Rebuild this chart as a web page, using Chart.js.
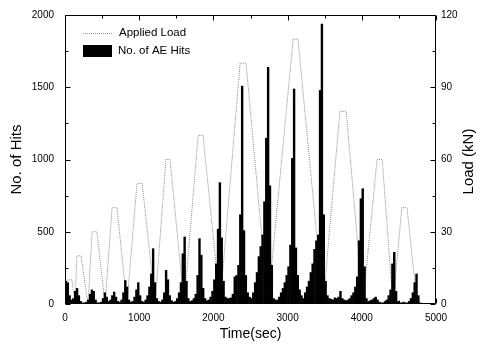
<!DOCTYPE html>
<html>
<head>
<meta charset="utf-8">
<title>AE Hits and Applied Load</title>
<script src="https://cdn.jsdelivr.net/npm/chart.js@4.4.0/dist/chart.umd.min.js"></script>
<style>
  body { margin: 0; background: #fff; }
  #wrap { width: 482px; height: 349px; }
</style>
</head>
<body>
<div id="wrap"><canvas id="chart" width="482" height="349"></canvas></div>
<script>
// AE hits, counted in 25 s bins from t = 0
const binWidth = 25;
const hitCounts = [
  160, 150, 60, 30, 40, 90, 110, 60, 20, 10,
  10, 15, 30, 70, 100, 90, 30, 10, 10, 15,
  40, 80, 50, 20, 30, 60, 85, 50, 20, 15,
  30, 80, 165, 120, 30, 15, 20, 50, 100, 150,
  60, 20, 15, 30, 60, 120, 210, 385, 150, 40,
  20, 15, 30, 80, 235, 170, 60, 25, 15, 20,
  40, 80, 150, 350, 466, 160, 40, 20, 25, 40,
  70, 200, 454, 340, 110, 40, 25, 30, 50, 90,
  170, 280, 520, 842, 460, 160, 50, 40, 40, 45,
  70, 190, 200, 270, 620, 1510, 510, 200, 80, 50,
  40, 80, 150, 220, 330, 400, 480, 710, 1150, 1640,
  820, 270, 40, 30, 30, 50, 80, 110, 150, 200,
  260, 410, 1010, 1490, 390, 200, 100, 60, 40, 80,
  120, 160, 220, 280, 380, 440, 480, 1480, 1940, 620,
  160, 60, 40, 35, 30, 45, 40, 50, 90, 40,
  30, 25, 30, 40, 60, 80, 120, 190, 440, 730,
  800, 260, 40, 20, 25, 30, 40, 50, 30, 15,
  10, 10, 20, 30, 60, 100, 280, 360, 90, 20,
  10, 10, 15, 10, 10, 20, 40, 80, 150, 210,
  60, 10, 0, 0, 0, 0, 0, 0, 0, 0
];

// corners of the applied load history
const loadTimes = [0, 95, 135, 160, 215, 310, 365, 430, 540, 635, 700, 835,
  970, 1040, 1215, 1360, 1415, 1605, 1795, 1860, 2090, 2360, 2440, 2735,
  3075, 3140, 3480, 3705, 3790, 4015, 4205, 4275, 4420, 4540, 4610, 4745];
const loadKN = [10, 10, 0, 20, 20, 0, 30, 30, 0, 40, 40, 0,
  50, 50, 0, 60, 60, 0, 70, 70, 0, 100, 100, 0,
  110, 110, 0, 80, 80, 0, 60, 60, 0, 40, 40, 0];

const fontFamily = '"Liberation Sans", Arial, sans-serif';
const loadColor = '#8c8c8c';
const plain = v => String(v);

const hitPoints = hitCounts.map((h, i) => ({ x: i * binWidth + binWidth / 2, y: h }));
const loadPoints = loadTimes.map((t, i) => ({ x: t, y: loadKN[i] }));

// frame, inward tick marks, legend and right axis title
const decorations = {
  id: 'decorations',
  afterDraw(chart) {
    const { ctx, chartArea: a } = chart;
    const sx = chart.scales.x, sy = chart.scales.y, sr = chart.scales.y1;
    const L = Math.round(a.left) + 0.5, R = Math.round(a.right) - 0.5;
    const T = Math.round(a.top) + 0.5, B = Math.round(a.bottom) - 0.5;
    ctx.save();
    ctx.strokeStyle = '#000';
    ctx.lineWidth = 1;
    ctx.beginPath();
    ctx.rect(L, T, R - L, B - T);

    const marks = (scale, cb) => {
      const vals = scale.ticks.map(t => t.value);
      vals.forEach((v, i) => {
        cb(Math.round(scale.getPixelForValue(v)) + 0.5, 5);
        if (i < vals.length - 1) {
          cb(Math.round(scale.getPixelForValue((v + vals[i + 1]) / 2)) + 0.5, 3);
        }
      });
    };
    marks(sx, (p, len) => {
      ctx.moveTo(p, B); ctx.lineTo(p, B - len);
      ctx.moveTo(p, T); ctx.lineTo(p, T + len);
    });
    marks(sy, (p, len) => { ctx.moveTo(L, p); ctx.lineTo(L + len, p); });
    marks(sr, (p, len) => { ctx.moveTo(R, p); ctx.lineTo(R - len, p); });
    ctx.stroke();

    // legend
    const ds = chart.data.datasets;
    ctx.font = '11.5px ' + fontFamily;
    ctx.fillStyle = '#000';
    ctx.textBaseline = 'middle';
    ctx.textAlign = 'left';
    ctx.strokeStyle = loadColor;
    ctx.setLineDash([1, 1]);
    ctx.beginPath();
    ctx.moveTo(a.left + 18, a.top + 18.5);
    ctx.lineTo(a.left + 48, a.top + 18.5);
    ctx.stroke();
    ctx.setLineDash([]);
    ctx.fillText(ds[1].label, a.left + 54, a.top + 18);
    ctx.fillRect(a.left + 18, a.top + 30, 29, 12);
    ctx.fillText(ds[0].label, a.left + 53, a.top + 36);

    // right axis title, read bottom to top
    ctx.font = '15px ' + fontFamily;
    ctx.textAlign = 'center';
    ctx.translate(469, (a.top + a.bottom) / 2 + 2);
    ctx.rotate(-Math.PI / 2);
    ctx.fillText('Load (kN)', 0, 0);
    ctx.restore();
  }
};

new Chart(document.getElementById('chart'), {
  type: 'bar',
  data: {
    datasets: [{
      label: 'No. of AE Hits',
      data: hitPoints,
      backgroundColor: '#000',
      borderWidth: 0,
      barPercentage: 1.3,
      categoryPercentage: 1,
      grouped: false,
      yAxisID: 'y',
      order: 1
    }, {
      type: 'line',
      label: 'Applied Load',
      data: loadPoints,
      borderColor: loadColor,
      borderWidth: 1,
      borderDash: [1, 1],
      pointRadius: 0,
      tension: 0,
      fill: false,
      yAxisID: 'y1',
      order: 2
    }]
  },
  options: {
    responsive: false,
    animation: false,
    layout: { padding: { top: 15, left: 0, right: 0, bottom: 0 } },
    plugins: { legend: { display: false }, tooltip: { enabled: false } },
    scales: {
      x: {
        type: 'linear',
        min: 0, max: 5000,
        offset: false,
        grid: { display: false, drawTicks: false },
        border: { display: false },
        ticks: { stepSize: 1000, padding: 8, color: '#000', callback: plain, font: { size: 10, family: fontFamily }, maxRotation: 0 },
        title: { display: true, text: 'Time(sec)', color: '#000', font: { size: 14, family: fontFamily }, padding: { top: 0, bottom: 6 } },
        afterFit(s) { s.height = 45; }
      },
      y: {
        position: 'left',
        min: 0, max: 2000,
        grid: { display: false, tickLength: 8 },
        border: { display: false },
        ticks: { stepSize: 500, padding: 3, color: '#000', callback: plain, font: { size: 10, family: fontFamily } },
        title: { display: true, text: 'No. of Hits', color: '#000', font: { size: 15, family: fontFamily }, padding: { top: 8, bottom: 0 } },
        afterFit(s) { s.width = 65; }
      },
      y1: {
        position: 'right',
        min: 0, max: 120,
        grid: { display: false, tickLength: 3 },
        border: { display: false },
        ticks: { stepSize: 30, padding: 2, color: '#000', callback: plain, font: { size: 10, family: fontFamily } },
        afterFit(s) { s.width = 46; }
      }
    }
  },
  plugins: [decorations]
});
</script>
</body>
</html>
